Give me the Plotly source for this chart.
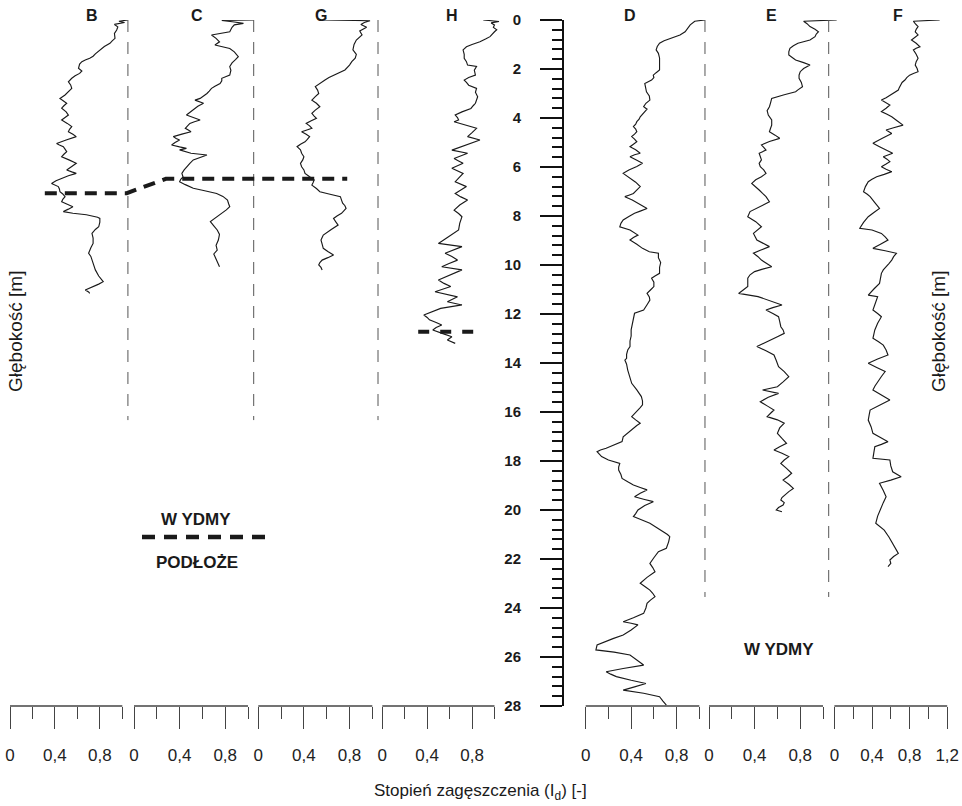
import plotly.graph_objects as go

# ---------------- penetration profiles: depth [m] vs density index Id [-] ----------------
B_DEPTH = [0.00, 0.05, 0.10, 0.18, 0.28, 0.41, 0.55, 0.75, 0.85, 0.95, 1.08, 1.22, 1.38, 1.48, 1.56, 1.63,
           1.70, 1.80, 1.97, 2.08, 2.18, 2.28, 2.38, 2.52, 2.65, 2.79, 2.92, 3.06, 3.20, 3.30, 3.40, 3.50,
           3.60, 3.75, 3.88, 3.98, 4.08, 4.22, 4.35, 4.46, 4.56, 4.66, 4.76, 4.90, 5.04, 5.10, 5.17, 5.27,
           5.37, 5.48, 5.58, 5.72, 5.85, 5.98, 6.12, 6.20, 6.26, 6.36, 6.46, 6.56, 6.67, 6.75, 6.80, 6.90,
           7.01, 7.10, 7.21, 7.32, 7.42, 7.52, 7.62, 7.72, 7.82, 7.89, 7.95, 8.05, 8.10, 8.25, 8.44, 8.55,
           8.71, 8.90, 9.12, 9.30, 9.52, 9.65, 9.80, 10.00, 10.20, 10.45, 10.68, 10.78, 10.88, 10.95, 11.02,
           11.10, 11.16]
B_ID = [1.05, 0.97, 1.02, 0.93, 0.96, 0.95, 0.93, 0.935, 0.91, 0.89, 0.84, 0.80, 0.76, 0.74, 0.71, 0.67,
        0.64, 0.62, 0.61, 0.64, 0.62, 0.58, 0.55, 0.52, 0.54, 0.55, 0.52, 0.49, 0.445, 0.48, 0.505, 0.48,
        0.46, 0.50, 0.52, 0.49, 0.46, 0.51, 0.55, 0.53, 0.52, 0.56, 0.59, 0.50, 0.415, 0.44, 0.475, 0.49,
        0.505, 0.48, 0.46, 0.53, 0.59, 0.55, 0.505, 0.55, 0.59, 0.52, 0.46, 0.41, 0.37, 0.40, 0.43, 0.44,
        0.445, 0.47, 0.49, 0.47, 0.46, 0.51, 0.56, 0.52, 0.475, 0.56, 0.68, 0.78, 0.80, 0.80, 0.79, 0.76,
        0.73, 0.74, 0.74, 0.72, 0.70, 0.72, 0.73, 0.74, 0.76, 0.79, 0.83, 0.79, 0.74, 0.70, 0.67,
        0.70, 0.71]

C_DEPTH = [0.00, 0.02, 0.08, 0.14, 0.20, 0.30, 0.48, 0.55, 0.61, 0.75, 0.89, 1.02, 1.10, 1.16, 1.30, 1.50,
           1.62, 1.75, 1.90, 2.05, 2.25, 2.32, 2.38, 2.48, 2.59, 2.70, 2.79, 2.90, 3.00, 3.10, 3.20, 3.27,
           3.34, 3.40, 3.52, 3.67, 3.78, 3.88, 3.98, 4.08, 4.15, 4.22, 4.32, 4.42, 4.50, 4.56, 4.66, 4.76,
           4.84, 4.90, 5.00, 5.10, 5.18, 5.24, 5.30, 5.37, 5.44, 5.51, 5.60, 5.71, 5.85, 5.99, 6.12, 6.26,
           6.40, 6.50, 6.60, 6.72, 6.87, 6.97, 7.08, 7.20, 7.35, 7.50, 7.62, 7.75, 7.89, 8.05, 8.23, 8.40,
           8.57, 8.75, 8.98, 9.20, 9.39, 9.55, 9.66, 9.85, 10.07]
C_ID = [1.05, 0.77, 0.88, 0.96, 0.88, 0.86, 0.84, 0.75, 0.68, 0.72, 0.75, 0.71, 0.78, 0.84, 0.88, 0.915,
        0.89, 0.86, 0.84, 0.85, 0.84, 0.80, 0.77, 0.77, 0.755, 0.71, 0.68, 0.66, 0.64, 0.61, 0.58, 0.535,
        0.57, 0.61, 0.56, 0.52, 0.49, 0.46, 0.52, 0.58, 0.53, 0.49, 0.47, 0.45, 0.48, 0.50, 0.42, 0.345,
        0.37, 0.40, 0.36, 0.33, 0.40, 0.46, 0.40, 0.45, 0.50, 0.64, 0.58, 0.52, 0.49, 0.46, 0.44, 0.42,
        0.43, 0.41, 0.40, 0.45, 0.52, 0.62, 0.725, 0.78, 0.82, 0.83, 0.84, 0.81, 0.77, 0.72, 0.67, 0.70,
        0.73, 0.75, 0.74, 0.72, 0.73, 0.70, 0.71, 0.73, 0.75]

G_DEPTH = [0.00, 0.03, 0.10, 0.18, 0.30, 0.45, 0.61, 0.72, 0.82, 1.00, 1.22, 1.40, 1.56, 1.70, 1.84, 2.04,
           2.15, 2.25, 2.35, 2.45, 2.58, 2.72, 2.86, 3.00, 3.13, 3.27, 3.40, 3.54, 3.68, 3.81, 3.92, 4.01,
           4.12, 4.22, 4.32, 4.42, 4.50, 4.56, 4.66, 4.76, 4.87, 4.97, 5.07, 5.17, 5.30, 5.44, 5.58, 5.71,
           5.85, 5.99, 6.12, 6.26, 6.40, 6.53, 6.64, 6.74, 6.88, 7.01, 7.10, 7.21, 7.35, 7.48, 7.58, 7.69,
           7.79, 7.89, 8.00, 8.10, 8.24, 8.37, 8.55, 8.78, 8.88, 8.98, 9.15, 9.32, 9.45, 9.59, 9.70, 9.80,
           9.90, 10.00, 10.10, 10.20]
G_ID = [0.57, 0.98, 0.93, 0.90, 0.95, 0.89, 0.91, 0.88, 0.86, 0.84, 0.83, 0.86, 0.85, 0.82, 0.80, 0.76,
        0.71, 0.66, 0.62, 0.585, 0.54, 0.50, 0.52, 0.53, 0.50, 0.47, 0.51, 0.54, 0.50, 0.47, 0.49, 0.51,
        0.46, 0.42, 0.45, 0.47, 0.42, 0.38, 0.42, 0.45, 0.43, 0.41, 0.37, 0.34, 0.37, 0.38, 0.40, 0.39,
        0.37, 0.38, 0.40, 0.41, 0.45, 0.49, 0.48, 0.47, 0.51, 0.54, 0.62, 0.72, 0.73, 0.74, 0.76, 0.77,
        0.75, 0.73, 0.69, 0.66, 0.68, 0.70, 0.64, 0.57, 0.56, 0.55, 0.56, 0.57, 0.61, 0.66, 0.61, 0.56,
        0.54, 0.53, 0.55, 0.56]

H_DEPTH = [0.00, 0.06, 0.12, 0.20, 0.30, 0.40, 0.48, 0.58, 0.68, 0.78, 0.89, 1.00, 1.09, 1.22, 1.40, 1.56,
           1.70, 1.84, 1.90, 2.05, 2.25, 2.35, 2.45, 2.55, 2.66, 2.79, 2.95, 3.13, 3.28, 3.40, 3.50, 3.61,
           3.75, 3.88, 3.98, 4.08, 4.15, 4.28, 4.42, 4.60, 4.76, 4.90, 5.10, 5.31, 5.44, 5.55, 5.65, 5.75,
           5.85, 6.05, 6.15, 6.26, 6.45, 6.60, 6.80, 6.95, 7.08, 7.22, 7.35, 7.55, 7.76, 7.90, 8.03, 8.30,
           8.57, 8.85, 9.12, 9.25, 9.40, 9.52, 9.65, 9.80, 9.95, 10.07, 10.20, 10.40, 10.61, 10.75, 10.88,
           11.09, 11.20, 11.30, 11.50, 11.63, 11.77, 11.90, 12.04, 12.14, 12.24, 12.35, 12.45, 12.55, 12.65,
           12.80, 12.93, 13.06, 13.20]
H_ID = [0.90, 1.04, 0.97, 1.00, 0.99, 1.02, 1.00, 0.98, 0.96, 0.92, 0.87, 0.80, 0.75, 0.72, 0.73, 0.73,
        0.75, 0.76, 0.84, 0.82, 0.83, 0.77, 0.73, 0.75, 0.77, 0.84, 0.83, 0.85, 0.84, 0.83, 0.81, 0.79,
        0.71, 0.65, 0.67, 0.68, 0.64, 0.74, 0.84, 0.80, 0.76, 0.87, 0.74, 0.62, 0.76, 0.70, 0.64, 0.68,
        0.72, 0.62, 0.67, 0.72, 0.68, 0.65, 0.75, 0.70, 0.65, 0.70, 0.76, 0.69, 0.64, 0.68, 0.71, 0.69,
        0.68, 0.59, 0.50, 0.71, 0.62, 0.56, 0.62, 0.67, 0.59, 0.53, 0.71, 0.60, 0.50, 0.55, 0.61,
        0.47, 0.58, 0.67, 0.58, 0.71, 0.52, 0.45, 0.37, 0.40, 0.42, 0.48, 0.53, 0.48, 0.45,
        0.54, 0.62, 0.58, 0.65]

D_DEPTH = [0.00, 0.05, 0.20, 0.35, 0.48, 0.61, 0.75, 0.85, 0.95, 1.08, 1.22, 1.36, 1.55, 1.80, 2.04, 2.15,
           2.25, 2.35, 2.45, 2.59, 2.75, 2.93, 3.10, 3.27, 3.40, 3.54, 3.64, 3.74, 3.85, 3.95, 4.05, 4.15,
           4.25, 4.35, 4.45, 4.56, 4.66, 4.76, 4.86, 4.97, 5.07, 5.17, 5.30, 5.44, 5.50, 5.58, 5.72, 5.85,
           5.98, 6.12, 6.26, 6.36, 6.46, 6.62, 6.80, 6.95, 7.08, 7.15, 7.21, 7.35, 7.50, 7.60, 7.69, 7.80,
           7.89, 8.02, 8.16, 8.30, 8.44, 8.57, 8.68, 8.78, 8.88, 8.98, 9.15, 9.32, 9.46, 9.52, 9.70, 9.90,
           10.10, 10.34, 10.45, 10.54, 10.70, 10.88, 11.02, 11.16, 11.30, 11.43, 11.62, 11.84, 11.97, 12.20,
           12.45, 12.65, 12.90, 13.10, 13.33, 13.47, 13.65, 13.81, 13.88, 14.05, 14.29, 14.55, 14.83, 15.10,
           15.37, 15.55, 15.71, 15.82, 15.92, 16.05, 16.19, 16.32, 16.46, 16.55, 16.67, 16.85, 17.01, 17.21,
           17.35, 17.48, 17.55, 17.62, 17.72, 17.82, 17.96, 18.03, 18.10, 18.25, 18.37, 18.55, 18.71, 18.85,
           18.98, 19.08, 19.18, 19.32, 19.46, 19.56, 19.66, 19.82, 20.00, 20.15, 20.27, 20.40, 20.54, 20.70,
           20.88, 21.00, 21.09, 21.30, 21.56, 21.70, 21.95, 22.18, 22.35, 22.52, 22.75, 22.99, 23.15, 23.27,
           23.40, 23.54, 23.68, 23.81, 24.00, 24.22, 24.40, 24.56, 24.62, 24.69, 24.90, 25.10, 25.25, 25.37,
           25.51, 25.71, 25.80, 25.92, 26.12, 26.33, 26.47, 26.60, 26.70, 26.80, 26.95, 27.08, 27.22, 27.35,
           27.48, 27.62, 27.80, 27.96]
D_ID = [1.05, 0.96, 0.92, 0.90, 0.875, 0.83, 0.74, 0.69, 0.65, 0.63, 0.62, 0.64, 0.65, 0.65, 0.65, 0.62,
        0.595, 0.60, 0.58, 0.52, 0.53, 0.535, 0.56, 0.565, 0.53, 0.51, 0.54, 0.52, 0.50, 0.48, 0.47, 0.45,
        0.44, 0.42, 0.44, 0.45, 0.43, 0.405, 0.43, 0.45, 0.42, 0.39, 0.44, 0.48, 0.43, 0.39, 0.45, 0.50,
        0.45, 0.38, 0.33, 0.36, 0.39, 0.44, 0.48, 0.45, 0.42, 0.38, 0.345, 0.41, 0.47, 0.51, 0.54, 0.48,
        0.43, 0.38, 0.33, 0.31, 0.30, 0.39, 0.43, 0.46, 0.42, 0.39, 0.45, 0.50, 0.56, 0.64, 0.64, 0.66,
        0.65, 0.65, 0.61, 0.58, 0.60, 0.60, 0.57, 0.54, 0.56, 0.565, 0.54, 0.51, 0.43, 0.42,
        0.41, 0.40, 0.40, 0.39, 0.39, 0.37, 0.36, 0.36, 0.345, 0.36, 0.37, 0.39, 0.405, 0.45,
        0.49, 0.50, 0.50, 0.48, 0.46, 0.43, 0.405, 0.44, 0.48, 0.45, 0.42, 0.37, 0.33, 0.32,
        0.25, 0.18, 0.13, 0.10, 0.12, 0.14, 0.20, 0.26, 0.30, 0.29, 0.29, 0.31, 0.32, 0.37,
        0.42, 0.48, 0.54, 0.48, 0.43, 0.51, 0.595, 0.52, 0.46, 0.44, 0.42, 0.49, 0.565, 0.62,
        0.685, 0.72, 0.74, 0.73, 0.71, 0.64, 0.60, 0.565, 0.59, 0.61, 0.54, 0.48, 0.53, 0.565,
        0.59, 0.61, 0.57, 0.54, 0.53, 0.51, 0.42, 0.33, 0.40, 0.46, 0.40, 0.33, 0.24, 0.17,
        0.10, 0.09, 0.25, 0.39, 0.45, 0.51, 0.33, 0.18, 0.22, 0.27, 0.40, 0.53, 0.43, 0.33,
        0.51, 0.65, 0.68, 0.71]

E_DEPTH = [0.00, 0.05, 0.15, 0.27, 0.38, 0.48, 0.58, 0.68, 0.82, 0.95, 1.05, 1.16, 1.30, 1.43, 1.53, 1.63,
           1.74, 1.84, 1.98, 2.11, 2.25, 2.38, 2.55, 2.72, 2.85, 2.93, 3.05, 3.20, 3.38, 3.54, 3.70, 3.88,
           4.08, 4.29, 4.42, 4.56, 4.70, 4.83, 4.96, 5.10, 5.20, 5.31, 5.44, 5.58, 5.71, 5.85, 5.99, 6.12,
           6.26, 6.40, 6.52, 6.67, 6.80, 6.94, 7.08, 7.21, 7.42, 7.62, 7.82, 8.03, 8.23, 8.44, 8.58, 8.71,
           8.98, 9.12, 9.25, 9.40, 9.52, 9.66, 9.80, 9.95, 10.07, 10.17, 10.27, 10.40, 10.54, 10.70, 10.88,
           11.02, 11.16, 11.29, 11.43, 11.63, 11.74, 11.84, 11.98, 12.11, 12.30, 12.52, 12.65, 12.79, 12.93,
           13.06, 13.20, 13.33, 13.50, 13.67, 13.90, 14.15, 14.35, 14.56, 14.77, 14.97, 15.10, 15.24, 15.40,
           15.58, 15.75, 15.92, 16.05, 16.19, 16.32, 16.46, 16.65, 16.87, 17.08, 17.28, 17.42, 17.55, 17.68,
           17.82, 17.96, 18.10, 18.30, 18.50, 18.64, 18.78, 18.95, 19.12, 19.25, 19.39, 19.49, 19.59, 19.70,
           19.80, 19.90, 20.00, 20.07]
E_ID = [1.12, 0.83, 0.86, 0.886, 0.93, 0.96, 0.94, 0.93, 0.886, 0.78, 0.74, 0.71, 0.70, 0.70, 0.73, 0.76,
        0.83, 0.886, 0.83, 0.80, 0.79, 0.79, 0.81, 0.82, 0.78, 0.76, 0.66, 0.55, 0.54, 0.53, 0.51, 0.52,
        0.55, 0.55, 0.54, 0.53, 0.58, 0.62, 0.53, 0.46, 0.48, 0.50, 0.44, 0.45, 0.46, 0.44, 0.45, 0.48,
        0.50, 0.46, 0.41, 0.375, 0.41, 0.44, 0.47, 0.50, 0.53, 0.44, 0.36, 0.34, 0.41, 0.46, 0.42, 0.39,
        0.42, 0.48, 0.53, 0.45, 0.39, 0.43, 0.46, 0.51, 0.55, 0.47, 0.40, 0.36, 0.34, 0.34, 0.34,
        0.30, 0.26, 0.43, 0.51, 0.64, 0.56, 0.50, 0.56, 0.61, 0.62, 0.63, 0.65, 0.66, 0.60,
        0.54, 0.47, 0.42, 0.50, 0.57, 0.59, 0.61, 0.66, 0.70, 0.65, 0.60, 0.47, 0.61, 0.52,
        0.45, 0.51, 0.57, 0.54, 0.51, 0.60, 0.66, 0.62, 0.60, 0.64, 0.68, 0.62, 0.57, 0.64,
        0.70, 0.66, 0.63, 0.68, 0.725, 0.69, 0.65, 0.70, 0.74, 0.70, 0.67, 0.64, 0.63, 0.66,
        0.65, 0.61, 0.59, 0.64]

F_DEPTH = [0.00, 0.05, 0.15, 0.27, 0.38, 0.48, 0.61, 0.72, 0.82, 0.95, 1.09, 1.15, 1.22, 1.40, 1.56, 1.70,
           1.84, 1.98, 2.11, 2.18, 2.25, 2.35, 2.45, 2.55, 2.66, 2.76, 2.86, 2.96, 3.06, 3.17, 3.27, 3.37,
           3.47, 3.60, 3.74, 3.85, 3.95, 4.12, 4.29, 4.40, 4.49, 4.56, 4.63, 4.83, 5.03, 5.17, 5.31, 5.44,
           5.51, 5.58, 5.68, 5.78, 5.88, 5.99, 6.09, 6.19, 6.30, 6.40, 6.50, 6.60, 6.80, 7.01, 7.11, 7.21,
           7.45, 7.69, 7.86, 8.03, 8.26, 8.50, 8.57, 8.71, 8.85, 8.98, 9.15, 9.32, 9.42, 9.52, 9.66, 9.80,
           9.94, 10.07, 10.20, 10.34, 10.55, 10.75, 10.98, 11.23, 11.29, 11.55, 11.84, 11.98, 12.11, 12.38,
           12.65, 12.82, 12.99, 13.13, 13.27, 13.47, 13.67, 13.84, 14.01, 14.18, 14.35, 14.55, 14.75, 14.95,
           15.10, 15.30, 15.51, 15.72, 15.92, 16.12, 16.33, 16.60, 16.87, 17.04, 17.21, 17.32, 17.42, 17.65,
           17.89, 17.96, 18.20, 18.44, 18.54, 18.64, 18.78, 18.91, 19.20, 19.46, 19.70, 19.95, 20.25, 20.54,
           20.68, 20.82, 21.10, 21.36, 21.55, 21.77, 21.90, 22.04, 22.18, 22.31]
F_ID = [1.12, 0.84, 0.86, 0.89, 0.87, 0.86, 0.89, 0.85, 0.82, 0.87, 0.91, 0.87, 0.84, 0.87, 0.89, 0.87,
        0.86, 0.88, 0.89, 0.84, 0.80, 0.77, 0.75, 0.72, 0.70, 0.69, 0.68, 0.64, 0.59, 0.55, 0.50, 0.55,
        0.59, 0.55, 0.50, 0.56, 0.61, 0.67, 0.73, 0.63, 0.55, 0.58, 0.61, 0.51, 0.41, 0.48, 0.55, 0.62,
        0.57, 0.52, 0.56, 0.59, 0.55, 0.50, 0.55, 0.61, 0.53, 0.45, 0.40, 0.36, 0.33, 0.31, 0.35, 0.38,
        0.43, 0.48, 0.42, 0.36, 0.31, 0.27, 0.40, 0.50, 0.54, 0.57, 0.49, 0.41, 0.54, 0.66, 0.63, 0.61,
        0.58, 0.55, 0.52, 0.50, 0.49, 0.48, 0.42, 0.36, 0.46, 0.44, 0.41, 0.46, 0.50, 0.46,
        0.43, 0.42, 0.41, 0.47, 0.52, 0.55, 0.57, 0.46, 0.36, 0.45, 0.54, 0.50, 0.46, 0.43,
        0.41, 0.50, 0.59, 0.48, 0.38, 0.37, 0.36, 0.39, 0.41, 0.49, 0.57, 0.50, 0.43, 0.42,
        0.41, 0.59, 0.60, 0.62, 0.66, 0.71, 0.60, 0.48, 0.52, 0.55, 0.52, 0.49, 0.46, 0.44,
        0.49, 0.53, 0.58, 0.62, 0.65, 0.68, 0.63, 0.59, 0.60, 0.57]

# dune / substrate boundary depths [m]
BOUNDARY_B = 7.07
BOUNDARY_CG = 6.48
BOUNDARY_H = 12.72
# reference line (Id) and its depth extent in each group
REF_ID = 1.05
REF_END_LEFT = 16.33
REF_END_RIGHT = 23.55

ID_TICKS = [0, 0.4, 0.8]
ID_TICKTEXT = ["0", "0,4", "0,8"]
ID_MINOR = [0.2, 0.6, 1.0]
F_TICKS = [0, 0.4, 0.8, 1.2]
F_TICKTEXT = ["0", "0,4", "0,8", "1,2"]
F_MINOR = [0.2, 0.6, 1.0]
DEPTH_TICKS = list(range(0, 29, 2))

# ---------------- layout geometry (pixels on a 962 x 806 canvas) ----------------
W, H = 962, 806
TOP, BOT = 20, 706
FONT = "Liberation Sans, Arial, Helvetica, sans-serif"
INK = "#1a1a1a"
AX = "#444444"


def fx(px):
    return px / W


def fy(py):
    return 1 - py / H


panels = [
    dict(name="B", depth=B_DEPTH, val=B_ID, x0=10.0, s=112.3, tx=91.7, ticks=ID_TICKS, text=ID_TICKTEXT, minor=ID_MINOR, top=1.0, hi=1.16),
    dict(name="C", depth=C_DEPTH, val=C_ID, x0=134.0, s=114.0, tx=196.7, ticks=ID_TICKS, text=ID_TICKTEXT, minor=ID_MINOR, top=1.0, hi=1.16),
    dict(name="G", depth=G_DEPTH, val=G_ID, x0=258.3, s=114.0, tx=320.5, ticks=ID_TICKS, text=ID_TICKTEXT, minor=ID_MINOR, top=1.0, hi=1.16),
    dict(name="H", depth=H_DEPTH, val=H_ID, x0=382.3, s=112.2, tx=452.0, ticks=ID_TICKS, text=ID_TICKTEXT, minor=ID_MINOR, top=1.0, hi=1.08),
    dict(name="D", depth=D_DEPTH, val=D_ID, x0=585.7, s=113.6, tx=629.5, ticks=ID_TICKS, text=ID_TICKTEXT, minor=ID_MINOR, top=1.0, hi=1.16),
    dict(name="E", depth=E_DEPTH, val=E_ID, x0=709.0, s=114.0, tx=771.5, ticks=ID_TICKS, text=ID_TICKTEXT, minor=ID_MINOR, top=1.0, hi=1.16),
    dict(name="F", depth=F_DEPTH, val=F_ID, x0=834.4, s=94.0, tx=897.5, ticks=F_TICKS, text=F_TICKTEXT, minor=F_MINOR, top=1.2, hi=1.3),
]

fig = go.Figure()
shapes = []
annotations = []
axis_ids = {}

for i, p in enumerate(panels, start=1):
    xa = "x" if i == 1 else f"x{i}"
    key = "xaxis" if i == 1 else f"xaxis{i}"
    axis_ids[p["name"]] = xa
    lo, hi = -0.06, p["hi"]
    dom = [fx(p["x0"] + lo * p["s"]), fx(p["x0"] + hi * p["s"])]

    fig.add_trace(go.Scatter(
        x=p["val"], y=p["depth"], mode="lines",
        line=dict(color=INK, width=1.15),
        xaxis=xa, yaxis="y", showlegend=False, hoverinfo="skip",
    ))

    fig.update_layout(**{key: dict(
        domain=dom, range=[lo, hi], anchor="y", automargin=False,
        showline=False, showgrid=False, zeroline=False,
        ticks="outside", tickmode="array", tickvals=p["ticks"], ticktext=p["text"],
        ticklen=22, tickwidth=1.3, tickcolor=AX,
        ticklabelstandoff=12,
        tickfont=dict(family=FONT, size=17, color="#222222"),
        minor=dict(ticks="outside", tickmode="array", tickvals=p["minor"],
                   ticklen=12, tickwidth=1.3, tickcolor=AX, showgrid=False),
        fixedrange=True,
    )})

    # bracket-style baseline of each Id scale
    shapes.append(dict(type="line", xref=xa, yref="paper", x0=0, x1=p["top"],
                       y0=fy(BOT), y1=fy(BOT), line=dict(color=AX, width=1.3)))

    annotations.append(dict(text=f"<b>{p['name']}</b>", x=fx(p["tx"]), y=fy(15), xref="paper", yref="paper",
                            xanchor="center", yanchor="middle", showarrow=False,
                            font=dict(family=FONT, size=16, color=INK)))

# dashed reference lines
for name in ["B", "C", "G"]:
    shapes.append(dict(type="line", xref=axis_ids[name], yref="y", x0=REF_ID, x1=REF_ID, y0=0, y1=REF_END_LEFT,
                       line=dict(color="#555555", width=1, dash="12px,10px")))
for name in ["D", "E"]:
    shapes.append(dict(type="line", xref=axis_ids[name], yref="y", x0=REF_ID, x1=REF_ID, y0=0, y1=REF_END_RIGHT,
                       line=dict(color="#555555", width=1, dash="12px,10px")))


def panel_px(name, v):
    p = next(q for q in panels if q["name"] == name)
    return p["x0"] + v * p["s"]


# dune / substrate boundary across B, C and G
bx0 = fx(panel_px("B", 0.31))
bx1 = fx(panel_px("B", 1.04))
bx2 = fx(panel_px("C", 0.28))
bx3 = fx(panel_px("G", 0.78))
shapes.append(dict(type="path", xref="paper", yref="y",
                   path=f"M {bx0},{BOUNDARY_B} L {bx1},{BOUNDARY_B} L {bx2},{BOUNDARY_CG} L {bx3},{BOUNDARY_CG}",
                   line=dict(color=INK, width=4, dash="12px,8px")))
# boundary in H
shapes.append(dict(type="line", xref=axis_ids["H"], yref="y", x0=0.32, x1=0.83, y0=BOUNDARY_H, y1=BOUNDARY_H,
                   line=dict(color=INK, width=4, dash="11px,11px")))
# key line between the two layer labels
shapes.append(dict(type="line", xref="paper", yref="paper", x0=fx(142), x1=fx(267), y0=fy(537), y1=fy(537),
                   line=dict(color=INK, width=4.5, dash="13px,9px")))


def label(text, x, y, size=17, bold=True, angle=0):
    annotations.append(dict(text=f"<b>{text}</b>" if bold else text, x=fx(x), y=fy(y),
                            xref="paper", yref="paper", xanchor="center", yanchor="middle",
                            showarrow=False, textangle=angle,
                            font=dict(family=FONT, size=size, color=INK)))


label("W YDMY", 196, 519)
label("PODŁOŻE", 197, 562)
label("W YDMY", 779, 649)
label("Głębokość [m]", 15, 332, size=19, bold=False, angle=-90)
label("Głębokość [m]", 938, 332, size=19, bold=False, angle=-90)
label("Stopień zagęszczenia (I<sub>d</sub>) [-]", 480, 792, size=17, bold=False)

fig.update_layout(
    width=W, height=H,
    margin=dict(l=0, r=0, t=0, b=0, autoexpand=False),
    paper_bgcolor="white", plot_bgcolor="rgba(0,0,0,0)",
    showlegend=False,
    shapes=shapes,
    annotations=annotations,
    yaxis=dict(
        domain=[fy(BOT), fy(TOP)], range=[28, 0], anchor="free", position=fx(563), side="left",
        automargin=False,
        showline=True, linecolor="#111111", linewidth=2,
        showgrid=False, zeroline=False,
        ticks="outside", tickmode="array", tickvals=DEPTH_TICKS,
        ticklen=22, tickwidth=2, tickcolor="#111111",
        ticklabelstandoff=16,
        tickfont=dict(family=FONT, size=15, color=INK, weight="bold"),
        minor=dict(ticks="outside", dtick=0.4, tick0=0, ticklen=10, tickwidth=1.5, tickcolor="#111111"),
        fixedrange=True,
    ),
)

fig.write_html("out.html")
